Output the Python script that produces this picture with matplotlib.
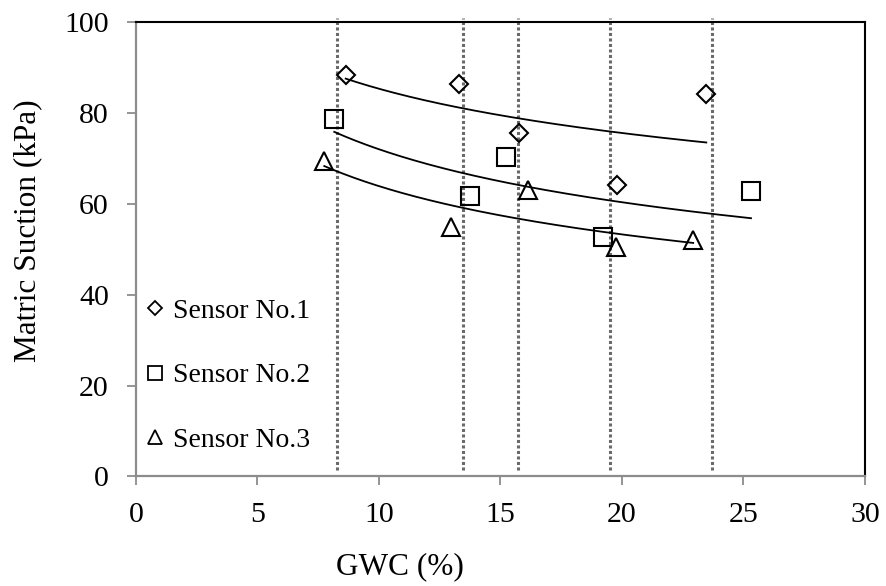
import numpy as np
import matplotlib
matplotlib.use("Agg")
import matplotlib.pyplot as plt
from matplotlib.lines import Line2D

plt.rcParams['font.family'] = ['Liberation Serif', 'DejaVu Serif']

# Data
s1_x = [8.63, 13.30, 15.76, 19.79, 23.47]
s1_y = [88.3, 86.4, 75.5, 64.0, 84.2]
s2_x = [8.16, 13.75, 15.22, 19.20, 25.31]
s2_y = [78.7, 61.7, 70.2, 52.6, 62.7]
s3_x = [7.75, 12.98, 16.15, 19.77, 22.93]
s3_y = [69.3, 54.8, 63.1, 50.4, 52.0]
sensor_labels = ["Sensor No.1", "Sensor No.2", "Sensor No.3"]
vline_x = [8.26, 13.47, 15.72, 19.49, 23.72]
x_ticks = [0, 5, 10, 15, 20, 25, 30]
y_ticks = [0, 20, 40, 60, 80, 100]

fig = plt.figure(figsize=(8.87, 5.86), dpi=100)
ax = fig.add_axes([0.1533, 0.1869, 0.8219, 0.7761])

# vertical dotted lines
ax.vlines(vline_x, 1.5, 100.8, colors='#6a6a6a', linestyles=(0, (1, 0.8)),
          linewidth=2.2, clip_on=False, zorder=1)

series = [(s1_x, s1_y, 'D', 9.3), (s2_x, s2_y, 's', 13), (s3_x, s3_y, '^', 13)]
for xs, ys, m, ms in series:
    xs = np.array(xs); ys = np.array(ys)
    # power trendline fitted to the data
    b, lna = np.polyfit(np.log(xs), np.log(ys), 1)
    xx = np.linspace(xs.min(), xs.max(), 200)
    ax.plot(xx, np.exp(lna) * xx ** b, color='black', lw=1.3, zorder=2)
    ax.plot(xs, ys, linestyle='none', marker=m, markersize=ms,
            markerfacecolor='none', markeredgecolor='black', markeredgewidth=1.5,
            zorder=3)

ax.set_xlim(0, 30)
ax.set_ylim(0, 100)
ax.set_xticks(x_ticks)
ax.set_yticks(y_ticks)
ax.tick_params(axis='both', labelsize=21.5, colors='#8c8c8c', length=6.5, width=1.3,
               direction='out', labelcolor='black')
ax.tick_params(axis='x', pad=12)
ax.tick_params(axis='y', pad=13)
for side in ['left', 'bottom']:
    ax.spines[side].set_color('#8c8c8c')
    ax.spines[side].set_linewidth(1.6)
for side in ['top', 'right']:
    ax.spines[side].set_color('black')
    ax.spines[side].set_linewidth(1.5)

ax.set_xlabel('GWC (%)', fontsize=22.5)
ax.set_ylabel('Matric Suction (kPa)', fontsize=22.5)
ax.xaxis.set_label_coords(0.362, -0.166)
ax.yaxis.set_label_coords(-0.128, 0.54)

handles = [Line2D([], [], linestyle='none', marker=m, markersize=s,
                  markerfacecolor='none', markeredgecolor='black', markeredgewidth=1.3)
           for m, s in [('D', 7.5), ('s', 10), ('^', 10)]]
leg = ax.legend(handles, sensor_labels, loc='lower left', bbox_to_anchor=(-0.002, 0.028),
                frameon=False, fontsize=20, handlelength=0.7, handletextpad=0.3,
                labelspacing=1.4, borderaxespad=0)

fig.savefig('out.png', dpi=100)
